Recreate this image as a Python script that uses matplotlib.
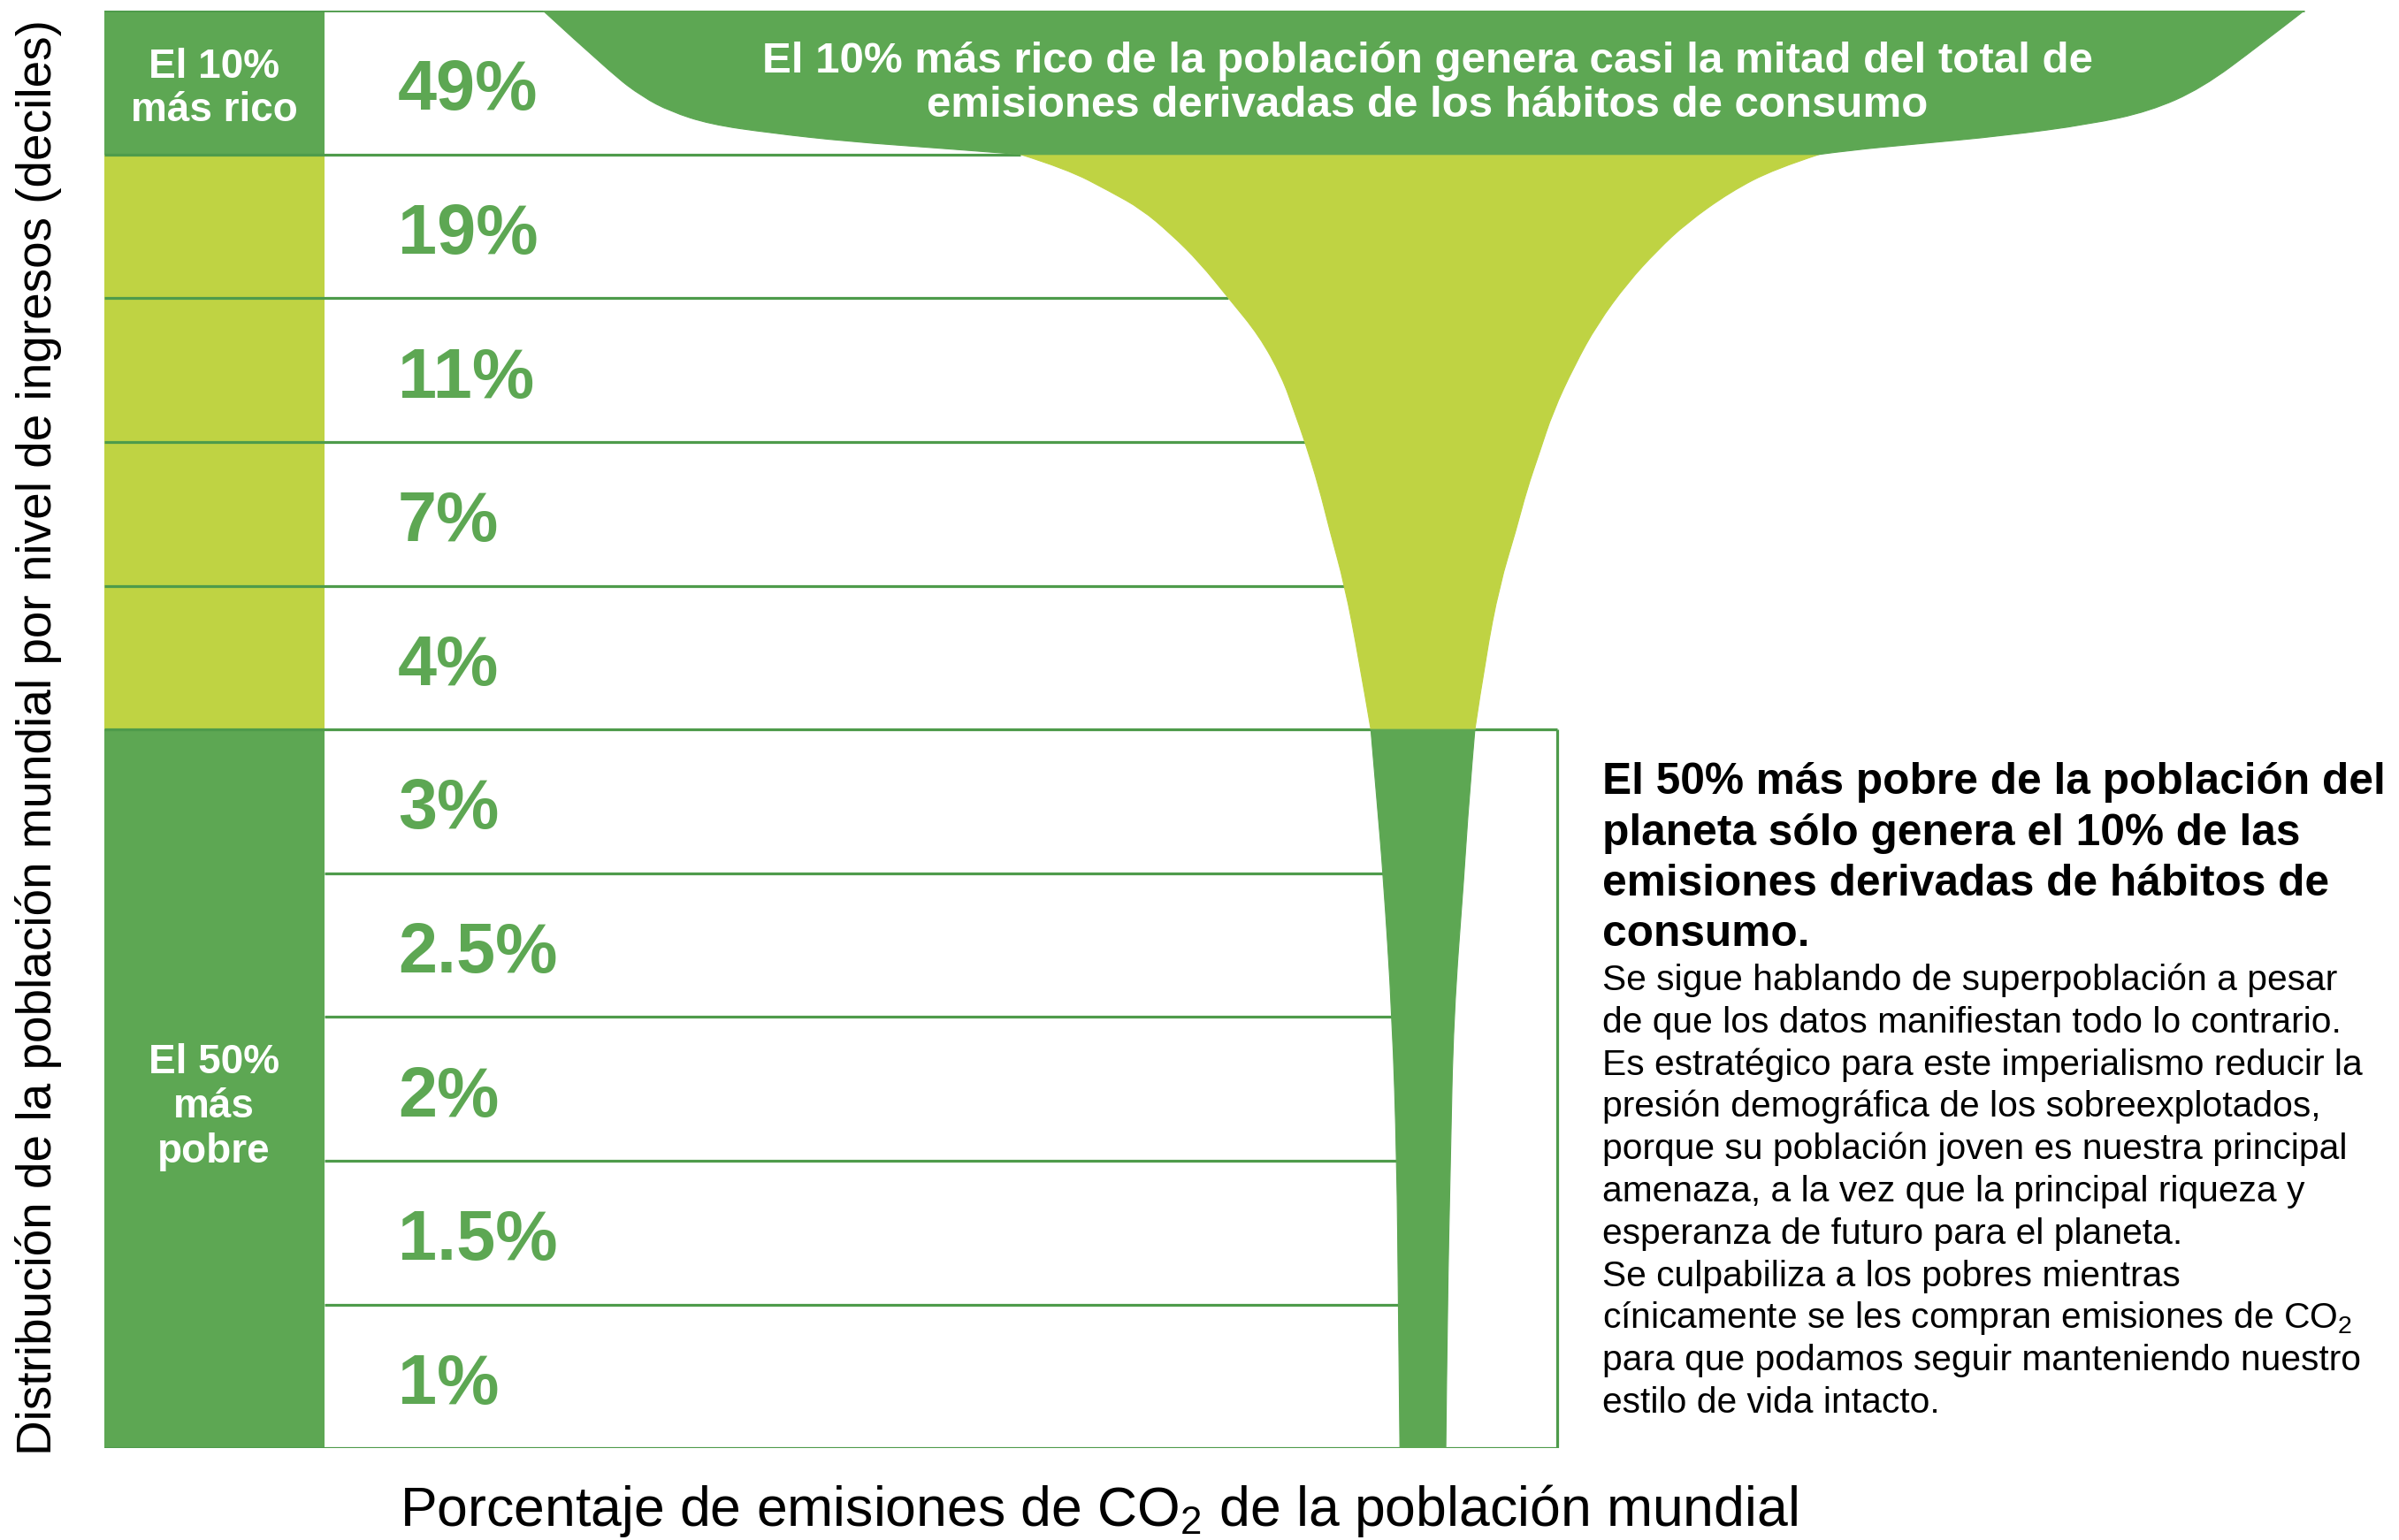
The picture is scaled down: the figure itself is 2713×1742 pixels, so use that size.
import numpy as np
import matplotlib.pyplot as plt
from matplotlib.path import Path
from matplotlib.patches import PathPatch

plt.rcParams['font.family'] = ['Liberation Sans', 'DejaVu Sans']
plt.rcParams['mathtext.fontset'] = 'custom'
plt.rcParams['mathtext.rm'] = 'Liberation Sans'
plt.rcParams['mathtext.it'] = 'Liberation Sans:italic'
plt.rcParams['mathtext.bf'] = 'Liberation Sans:bold'

DARK = '#5DA753'
LIME = '#BFD343'
LINE = '#4E9B4B'

# share of consumption CO2 emissions per income decile, richest first
emissions = [49, 19, 11, 7, 4, 3, 2.5, 2, 1.5, 1]
decile_group = ['rico', 'medio', 'medio', 'medio', 'medio',
                'pobre', 'pobre', 'pobre', 'pobre', 'pobre']
group_colors = {'rico': DARK, 'medio': LIME, 'pobre': DARK}
group_text = {'rico': ['El 10%', 'más rico'], 'pobre': ['El 50%', 'más', 'pobre']}

# funnel outline: depth in deciles, edges in layout units
top_depth_l = [0, 0.44, 0.60, 0.70, 0.79, 0.85, 0.91, 0.96, 1.0]
top_left = [287, 332, 352, 370, 396, 435, 486, 551, 599]
top_depth_r = [0, 0.24, 0.54, 0.70, 0.79, 0.87, 0.93, 0.97, 1.0]
top_right = [1438, 1409, 1371, 1337, 1298, 1242, 1182, 1142, 1121]
mid_depth_l = [1.0, 1.10, 1.26, 1.38, 1.55, 1.75, 2.0, 2.26, 2.55, 2.79, 3.0, 3.31, 3.61, 4.0, 4.5, 5.0]
mid_left = [599, 629, 658, 678, 697, 716, 735, 755, 770, 778, 785, 794, 801, 811, 820, 828]
mid_depth_r = [1.0, 1.10, 1.26, 1.48, 1.67, 1.89, 2.18, 2.47, 2.79, 3.08, 3.33, 3.61, 4.0, 4.5, 5.0]
mid_right = [1121, 1092, 1063, 1034, 1015, 996, 976, 961, 947, 938, 930, 923, 912, 903, 896]
stem_depth = [5, 5.5, 6, 7, 8, 9, 10]
stem_left = [828, 832, 836, 842, 845, 846, 847]
stem_right = [896, 892, 889, 882, 880, 878, 877]

banner = ['El 10% más rico de la población genera casi la mitad del total de',
          'emisiones derivadas de los hábitos de consumo']
heading = ['El 50% más pobre de la población del',
           'planeta sólo genera el 10% de las',
           'emisiones derivadas de hábitos de',
           'consumo.']
body = ['Se sigue hablando de superpoblación a pesar',
        'de que los datos manifiestan todo lo contrario.',
        'Es estratégico para este imperialismo reducir la',
        'presión demográfica de los sobreexplotados,',
        'porque su población joven es nuestra principal',
        'amenaza, a la vez que la principal riqueza y',
        'esperanza de futuro para el planeta.',
        'Se culpabiliza a los pobres mientras',
        'cínicamente se les compran emisiones de CO$_2$',
        'para que podamos seguir manteniendo nuestro',
        'estilo de vida intacto.']
ylabel = 'Distribución de la población mundial por nivel de ingresos (deciles)'
xlabel = 'Porcentaje de emisiones de CO$_2$ de la población mundial'


def smooth(pts):
    verts = [pts[0]]
    codes = [Path.LINETO]
    n = len(pts)
    for k in range(1, n - 1):
        if k < n - 2:
            end = ((pts[k][0] + pts[k + 1][0]) / 2, (pts[k][1] + pts[k + 1][1]) / 2)
        else:
            end = pts[k + 1]
        verts += [pts[k], end]
        codes += [Path.CURVE3, Path.CURVE3]
    if n == 2:
        verts.append(pts[1])
        codes.append(Path.LINETO)
    return verts, codes


def funnel_part(ax, dl, xl, dr, xr, color, z):
    lv, lc = smooth(list(zip(xl, dl)))
    rv, rc = smooth(list(zip(xr, dr))[::-1])
    lc[0] = Path.MOVETO
    verts = lv + rv + [lv[0]]
    codes = lc + rc + [Path.CLOSEPOLY]
    ax.add_patch(PathPatch(Path(verts, codes), facecolor=color, edgecolor=color,
                           lw=0.8, zorder=z))


fig = plt.figure(figsize=(27.13, 17.42), dpi=100)
ax = fig.add_axes([68 / 1568, 1 - 947 / 1007, 1500 / 1568, 940 / 1007])
ax.set_xlim(0, 1500)
ax.set_ylim(10, 0)
ax.axis('off')

col_w = 144
box_right = 950
n = len(emissions)
rows = np.arange(n)

# left column cells
ax.barh(rows + 0.5, col_w, height=1.0, left=0,
        color=[group_colors[g] for g in decile_group], edgecolor='none', zorder=1)

# decile separators, ending at the funnel
all_depth = mid_depth_l + stem_depth[1:]
all_left = mid_left + stem_left[1:]
for b in range(1, n):
    start = 0 if decile_group[b] == 'medio' or b == 5 else col_w
    end = box_right if b == 5 else np.interp(b, all_depth, all_left)
    ax.hlines(b, start, end, color=LINE, lw=2.3, zorder=2)
ax.hlines(0, 0, top_right[0], color=LINE, lw=2.0, zorder=2)
ax.hlines(n, 0, box_right, color=LINE, lw=2.3, zorder=2)
ax.vlines(box_right, 5, n, color=LINE, lw=2.3, zorder=2)

# funnel
funnel_part(ax, mid_depth_l, mid_left, mid_depth_r, mid_right, LIME, 3)
funnel_part(ax, top_depth_l, top_left, top_depth_r, top_right, DARK, 4)
funnel_part(ax, stem_depth, stem_left, stem_depth, stem_right, DARK, 4)

# percentages
for i, v in enumerate(emissions):
    ax.text(192, i + 0.69, f'{v:g}%', color=DARK, fontsize=57, fontweight='bold',
            ha='left', va='baseline', zorder=5)

# group labels
for g, first, pitch in [('rico', 0.468, 0.298), ('pobre', 7.39, 0.31)]:
    for k, line in enumerate(group_text[g]):
        ax.text(col_w / 2, first + k * pitch, line, color='white', fontsize=33,
                fontweight='bold', ha='center', va='baseline', zorder=5)

# banner text in the top band
for k, line in enumerate(banner):
    ax.text(865, 0.43 + k * 0.31, line, color='white', fontsize=35.5,
            fontweight='bold', ha='center', va='baseline', zorder=5)

# right-hand commentary
H = 1742
for k, line in enumerate(heading):
    fig.text(0.668, 1 - (898 + k * 57.5) / H, line, fontsize=35.7,
             fontweight='bold', ha='left', va='baseline')
for k, line in enumerate(body):
    fig.text(0.668, 1 - (1120 + k * 47.8) / H, line, fontsize=29.3,
             ha='left', va='baseline')

fig.text(0.016, 0.521, ylabel, rotation=90, fontsize=39.5, ha='center', va='center')
fig.text(0.458, 1 - 1726 / H, xlabel, fontsize=45, ha='center', va='baseline')

fig.savefig('out.png', dpi=100, facecolor='white')
